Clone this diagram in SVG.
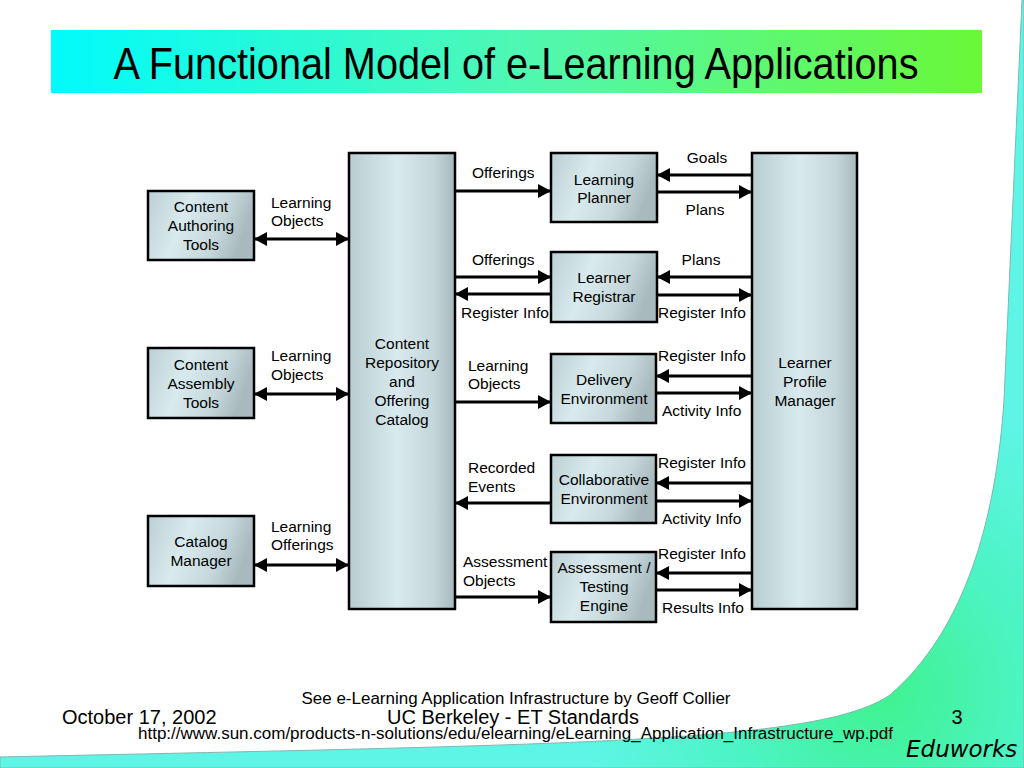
<svg xmlns="http://www.w3.org/2000/svg" width="1024" height="768" viewBox="0 0 1024 768">
<defs>
<linearGradient id="title" x1="0" y1="0" x2="1" y2="0">
<stop offset="0" stop-color="#00fbfb"/>
<stop offset="0.5" stop-color="#4ff8b4"/>
<stop offset="1" stop-color="#6af838"/>
</linearGradient>
<radialGradient id="bg" gradientUnits="userSpaceOnUse" cx="880" cy="690" r="300">
<stop offset="0" stop-color="#3ff28e"/>
<stop offset="0.5" stop-color="#4cf4c4"/>
<stop offset="1" stop-color="#5ef5e6"/>
</radialGradient>
<linearGradient id="box" x1="0" y1="0" x2="1" y2="0.25">
<stop offset="0" stop-color="#bccfd3"/>
<stop offset="0.4" stop-color="#d8eaee"/>
<stop offset="0.75" stop-color="#c6d8dc"/>
<stop offset="1" stop-color="#a8babe"/>
</linearGradient>
<linearGradient id="tall" x1="0" y1="0" x2="1" y2="0">
<stop offset="0" stop-color="#b9cdd1"/>
<stop offset="0.45" stop-color="#d8eaee"/>
<stop offset="0.8" stop-color="#c4d6da"/>
<stop offset="1" stop-color="#a6b8bc"/>
</linearGradient>
<marker id="ah" viewBox="0 0 13 14" refX="13" refY="7" markerWidth="13" markerHeight="14" markerUnits="userSpaceOnUse" orient="auto-start-reverse">
<path d="M0,0 L13,7 L0,14 Z" fill="#000"/>
</marker>
</defs>
<style>
.n rect{stroke:#000;stroke-width:2.5}
.t{font-family:"Liberation Sans",Arial,sans-serif;font-size:15.5px;fill:#000}
.c{text-anchor:middle}
.cn path{stroke:#000;stroke-width:3;fill:none;marker-end:url(#ah)}
.cn path.b{marker-start:url(#ah)}
.f{font-family:"Liberation Sans",Arial,sans-serif;fill:#000}
</style>
<rect width="1024" height="768" fill="#fff"/>
<path d="M1022,0 L1004,400 C996,520 965,630 890,695 C820,742 600,744 0,757 L0,768 L1024,768 L1024,0 Z" fill="url(#bg)" stroke="#7fb8b0" stroke-width="1"/>
<rect x="51" y="30" width="931" height="63" fill="url(#title)"/>
<text x="516" y="79" class="f" font-size="44" text-anchor="middle" textLength="805" lengthAdjust="spacingAndGlyphs">A Functional Model of e-Learning Applications</text>

<g id="content-authoring-tools" class="n">
<rect x="148" y="191" width="106" height="69" fill="url(#box)"/>
<text class="t c" x="201" y="212">Content</text>
<text class="t c" x="201" y="231">Authoring</text>
<text class="t c" x="201" y="250">Tools</text>
</g>
<g id="content-assembly-tools" class="n">
<rect x="148" y="348" width="106" height="70" fill="url(#box)"/>
<text class="t c" x="201" y="370">Content</text>
<text class="t c" x="201" y="389">Assembly</text>
<text class="t c" x="201" y="408">Tools</text>
</g>
<g id="catalog-manager" class="n">
<rect x="148" y="516" width="106" height="70" fill="url(#box)"/>
<text class="t c" x="201" y="547">Catalog</text>
<text class="t c" x="201" y="566">Manager</text>
</g>
<g id="content-repository" class="n">
<rect x="349" y="153" width="106" height="456" fill="url(#tall)"/>
<text class="t c" x="402" y="349">Content</text>
<text class="t c" x="402" y="368">Repository</text>
<text class="t c" x="402" y="387">and</text>
<text class="t c" x="402" y="406">Offering</text>
<text class="t c" x="402" y="425">Catalog</text>
</g>
<g id="learning-planner" class="n">
<rect x="551" y="153" width="106" height="69" fill="url(#box)"/>
<text class="t c" x="604" y="185">Learning</text>
<text class="t c" x="604" y="203">Planner</text>
</g>
<g id="learner-registrar" class="n">
<rect x="551" y="252" width="106" height="70" fill="url(#box)"/>
<text class="t c" x="604" y="283">Learner</text>
<text class="t c" x="604" y="302">Registrar</text>
</g>
<g id="delivery-environment" class="n">
<rect x="551" y="354" width="105" height="69" fill="url(#box)"/>
<text class="t c" x="604" y="385">Delivery</text>
<text class="t c" x="604" y="404">Environment</text>
</g>
<g id="collaborative-environment" class="n">
<rect x="551" y="455" width="105" height="68" fill="url(#box)"/>
<text class="t c" x="604" y="485">Collaborative</text>
<text class="t c" x="604" y="504">Environment</text>
</g>
<g id="assessment-testing-engine" class="n">
<rect x="551" y="552" width="105" height="70" fill="url(#box)"/>
<text class="t c" x="604" y="573">Assessment /</text>
<text class="t c" x="604" y="592">Testing</text>
<text class="t c" x="604" y="611">Engine</text>
</g>
<g id="learner-profile-manager" class="n">
<rect x="752" y="153" width="105" height="456" fill="url(#tall)"/>
<text class="t c" x="805" y="368">Learner</text>
<text class="t c" x="805" y="387">Profile</text>
<text class="t c" x="805" y="406">Manager</text>
</g>

<g id="connectors" class="cn">
<path class="b" d="M254,239 H349"/>
<path class="b" d="M254,394 H349"/>
<path class="b" d="M254,565 H349"/>
<path d="M455,191 H551"/>
<path d="M752,175 H657"/>
<path d="M657,192 H752"/>
<path d="M455,277 H551"/>
<path d="M551,294 H455"/>
<path d="M752,277 H657"/>
<path d="M657,295 H752"/>
<path d="M455,402 H551"/>
<path d="M752,376 H656"/>
<path d="M656,393 H752"/>
<path d="M551,503 H455"/>
<path d="M752,483 H656"/>
<path d="M656,501 H752"/>
<path d="M455,597 H551"/>
<path d="M752,573 H656"/>
<path d="M656,590 H752"/>
</g>

<g id="labels">
<text class="t" x="271" y="208">Learning</text>
<text class="t" x="271" y="226">Objects</text>
<text class="t" x="271" y="361">Learning</text>
<text class="t" x="271" y="380">Objects</text>
<text class="t" x="271" y="532">Learning</text>
<text class="t" x="271" y="550">Offerings</text>
<text class="t" x="472" y="178">Offerings</text>
<text class="t c" x="707" y="163">Goals</text>
<text class="t c" x="705" y="215">Plans</text>
<text class="t" x="472" y="265">Offerings</text>
<text class="t c" x="701" y="265">Plans</text>
<text class="t" x="461" y="318">Register Info</text>
<text class="t" x="658" y="318">Register Info</text>
<text class="t" x="468" y="371">Learning</text>
<text class="t" x="468" y="389">Objects</text>
<text class="t" x="658" y="361">Register Info</text>
<text class="t" x="662" y="416">Activity Info</text>
<text class="t" x="468" y="473">Recorded</text>
<text class="t" x="468" y="492">Events</text>
<text class="t" x="658" y="468">Register Info</text>
<text class="t" x="662" y="524">Activity Info</text>
<text class="t" x="463" y="567">Assessment</text>
<text class="t" x="463" y="586">Objects</text>
<text class="t" x="658" y="559">Register Info</text>
<text class="t" x="662" y="613">Results Info</text>
</g>

<g id="footer">
<text class="f" x="516" y="704" font-size="16" text-anchor="middle" textLength="429" lengthAdjust="spacingAndGlyphs">See e-Learning Application Infrastructure by Geoff Collier</text>
<text class="f" x="62" y="724" font-size="20">October 17, 2002</text>
<text class="f" x="513" y="724" font-size="20" text-anchor="middle">UC Berkeley - ET Standards</text>
<text class="f" x="957" y="724" font-size="20" text-anchor="middle">3</text>
<text class="f" x="138" y="739" font-size="16" textLength="755" lengthAdjust="spacingAndGlyphs">http://www.sun.com/products-n-solutions/edu/elearning/eLearning_Application_Infrastructure_wp.pdf</text>
<text x="906" y="757" font-family="DejaVu Sans, sans-serif" font-style="italic" font-size="23" fill="#000">Eduworks</text>
</g>
</svg>
